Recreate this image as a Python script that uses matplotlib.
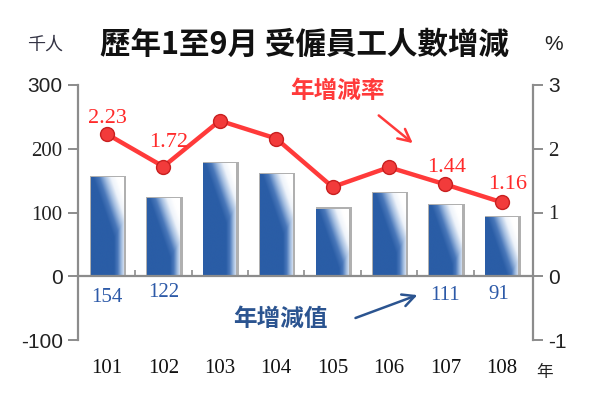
import numpy as np
import matplotlib
matplotlib.use('Agg')
import matplotlib.pyplot as plt
from matplotlib.colors import LinearSegmentedColormap

years = ['101', '102', '103', '104', '105', '106', '107', '108']
change_k = [154, 122, 176, 159, 105, 129, 111, 91]      # 年增減值 (千人)
rate_pct = [2.23, 1.72, 2.44, 2.16, 1.40, 1.71, 1.44, 1.16]  # 年增減率 (%)
labeled = [0, 1, 6, 7]   # 只有這幾年標數字

cjk = ['Noto Sans CJK TC', 'DejaVu Sans']
serif = 'Liberation Serif'
sans = 'Liberation Sans'
gray = '#8C8C8C'

fig = plt.figure(figsize=(6, 4), dpi=100)
ax = fig.add_axes([0.13, 0.15, 0.758, 0.6375])
ax2 = ax.twinx()

x = np.arange(len(years))
w = 0.58

# 長條: 灰色陰影 + 漸層
ax.bar(x + 0.02, np.array(change_k) + 3, width=w + 0.06, color='#B0B0B0', zorder=1)
cmap = LinearSegmentedColormap.from_list('bar', ['#2A5DA6', '#4A78BA', '#A3BDE0', '#EEF3FA', '#FFFFFF'])
u = np.linspace(0, 1, 80)
bar_px = 33.0   # 長條寬 (像素)
px_per_unit = 0.64
for xi, h in zip(x, change_k):
    yy = np.linspace(0, h, 300)
    U, Y = np.meshgrid(u, yy)
    depth = (h - Y) * px_per_unit
    diag = np.clip((U * bar_px - 2 - depth * 0.35) / 24.0, 0, 1)
    edge = np.clip((U - 0.7) / 0.3, 0, 1) * 0.65
    t = np.maximum(diag, edge)
    ax.imshow(t, cmap=cmap, vmin=0, vmax=1, origin='lower', aspect='auto',
              extent=[xi - w / 2, xi + w / 2, 0, h], zorder=2, interpolation='bilinear')

ax.set_xlim(-0.514, 7.55)
ax.set_ylim(-100, 300)
ax.set_yticks([-100, 0, 100, 200, 300])
ax.axhline(0, color=gray, lw=1.6, zorder=3)
ax.vlines(x[:-1] + 0.5, 0, 10, color=gray, lw=1.2, zorder=3)

for s in ['top', 'bottom', 'right']:
    ax.spines[s].set_visible(False)
ax.spines['left'].set_color(gray)
ax.spines['left'].set_linewidth(1.6)
ax.tick_params(axis='y', colors=gray, length=7, width=1.4, labelcolor='#222222', pad=4)
ax.set_xticks(x)
ax.set_xticklabels(years, fontsize=15, family=serif, color='#111111')
ax.tick_params(axis='x', length=0, pad=14)

# 折線
ax2.plot(x, rate_pct, color='#FF3A3A', lw=3.2, marker='o', ms=10,
         mfc='#F23B3B', mec='#C82020', mew=1.0, zorder=5)
ax2.set_ylim(-1, 3)
ax2.set_yticks([-1, 0, 1, 2, 3])
for s in ['top', 'bottom', 'left']:
    ax2.spines[s].set_visible(False)
ax2.spines['right'].set_color(gray)
ax2.spines['right'].set_linewidth(1.6)
ax2.tick_params(axis='y', colors=gray, length=7, width=1.4, labelcolor='#222222', pad=4)

# 刻度字型 (原圖混用襯線與無襯線)
ax.set_yticklabels([str(int(v)) for v in ax.get_yticks()])
ax2.set_yticklabels([str(int(v)) for v in ax2.get_yticks()])
for axis_, sans_vals in [(ax, ['300', '0', '-100']), (ax2, ['3', '0', '-1'])]:
    for lab in axis_.get_yticklabels():
        lab.set_family(sans if lab.get_text() in sans_vals else serif)
        lab.set_fontsize(15)

# 數字標籤
rate_off = {0: (0, 11), 1: (4, 17), 6: (1, 12), 7: (4, 13)}
bar_off = {0: (0, -15), 1: (0, -12), 6: (0, -14), 7: (-2, -13)}
for i in labeled:
    ax2.annotate(f'{rate_pct[i]:.2f}', (x[i], rate_pct[i]), xytext=rate_off[i],
                 textcoords='offset points', ha='center', va='center',
                 fontsize=16, family=serif, color='#FF2A2A', zorder=6)
    ax.annotate(f'{change_k[i]}', (x[i], 0), xytext=bar_off[i],
                textcoords='offset points', ha='center', va='center',
                fontsize=15, family=serif, color='#2D5AA8')

ax2.text(4.09, 2.91, '年增減率', fontsize=17, family=cjk, color='#FF3A3A',
         ha='center', va='center', fontweight='bold')
ax2.annotate('', xy=(5.46, 2.06), xytext=(4.78, 2.55),
             arrowprops=dict(arrowstyle='->', color='#FF3A3A', lw=1.8, mutation_scale=22))
ax.text(3.07, -67, '年增減值', fontsize=17, family=cjk, color='#2B5490',
        ha='center', va='center', fontweight='bold')
ax.annotate('', xy=(5.55, -28), xytext=(4.36, -67),
            arrowprops=dict(arrowstyle='->', color='#2B5490', lw=1.8, mutation_scale=22))

# 標題與單位
fig.text(0.508, 0.8875, '歷年1至9月 受僱員工人數增減', fontsize=22, family=cjk,
         fontweight='bold', ha='center', va='center', color='#111111')
fig.text(0.075, 0.8875, '千人', fontsize=13, family=cjk, ha='center', va='center', color='#333344')
fig.text(0.922, 0.8875, '%', fontsize=15, family=sans, ha='center', va='center', color='#222222')
fig.text(0.908, 0.07, '年', fontsize=12, family=cjk, ha='center', va='center', color='#222222')

fig.savefig('out.png', dpi=100)
